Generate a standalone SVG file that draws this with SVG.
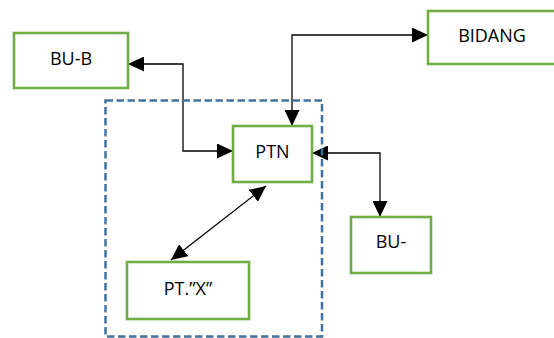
<svg xmlns="http://www.w3.org/2000/svg" width="554" height="338" viewBox="0 0 554 338">
  <style>
    .box { fill: #ffffff; stroke: #70AD47; stroke-width: 2.6; }
    .label { font-family: "Open Sans", "Liberation Sans", sans-serif; font-size: 18px; fill: #000000; text-anchor: middle; }
    .link { fill: none; stroke: #000000; stroke-width: 1.3; marker-start: url(#head); marker-end: url(#head); }
    .group { fill: none; stroke: #41719C; stroke-width: 2.5; stroke-dasharray: 7.5 3.5; }
  </style>
  <defs>
    <marker id="head" viewBox="0 0 16 15" refX="16" refY="7.5" markerWidth="16" markerHeight="15" markerUnits="userSpaceOnUse" orient="auto-start-reverse">
      <path d="M0,0 L16,7.5 L0,15 Z" fill="#000000"/>
    </marker>
  </defs>

  <rect id="paper" x="0" y="0" width="554" height="338" fill="#ffffff"/>

  <!-- connectors -->
  <g id="connectors">
    <polyline class="link" points="128,64 183,64 183,151 233,151"/>
    <polyline class="link" points="292,126 292,35 428,35"/>
    <polyline class="link" points="312,153 380,153 380,217"/>
    <line class="link" x1="266" y1="186" x2="171" y2="260"/>
  </g>

  <!-- nodes -->
  <g id="bu-b">
    <rect class="box" x="14" y="33" width="114" height="55"/>
    <text class="label" x="71" y="65">BU-B</text>
  </g>
  <g id="bidang">
    <rect class="box" x="428" y="11" width="130" height="53"/>
    <text class="label" x="492" y="42">BIDANG</text>
  </g>
  <g id="ptn">
    <rect class="box" x="233" y="126" width="79" height="56"/>
    <text class="label" x="272.5" y="158">PTN</text>
  </g>
  <g id="bu">
    <rect class="box" x="351" y="217" width="80" height="56"/>
    <text class="label" x="391" y="248">BU-</text>
  </g>
  <g id="pt-x">
    <rect class="box" x="127" y="262" width="122" height="57"/>
    <text class="label" x="188" y="295">PT.”X”</text>
  </g>

  <!-- dashed grouping frame -->
  <g id="frame">
    <rect class="group" x="105.5" y="100.5" width="216.5" height="236"/>
  </g>
</svg>
